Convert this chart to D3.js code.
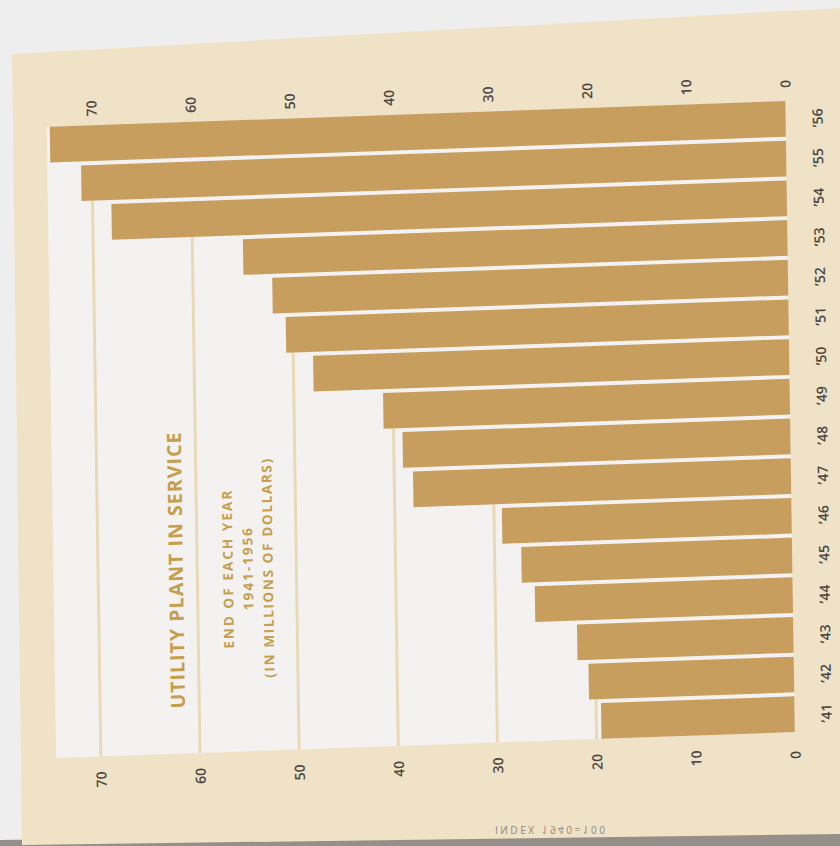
<!DOCTYPE html>
<html>
<head>
<meta charset="utf-8">
<script src="https://cdn.jsdelivr.net/npm/d3@7"></script>
<style>
  html, body { margin: 0; padding: 0; background: #eeeeee; }
  svg { display: block; }
</style>
</head>
<body>
<svg id="chart" width="840" height="846"></svg>
<script>
// data (millions of dollars)
const years = ["’41", "’42", "’43", "’44", "’45", "’46", "’47", "’48",
               "’49", "’50", "’51", "’52", "’53", "’54", "’55", "’56"];
const values = [19.5, 20.7, 21.8, 26.0, 27.3, 29.2, 38.1, 39.1,
                41.0, 48.0, 50.7, 52.0, 54.9, 68.1, 71.1, 74.2];
const tickValues = [0, 10, 20, 30, 40, 50, 60, 70];
const gridValues = [20, 30, 40, 50, 60, 70];
const title = "UTILITY PLANT IN SERVICE";
const subtitle = ["END OF EACH YEAR", "1941-1956", "(IN MILLIONS OF DOLLARS)"];
const footNote = "INDEX 1940=100";

const barColor = '#c89e5f';
const paper = '#f0e2c6';
const panel = '#f3f2f0';
const gridColor = '#e9d9b6';
const textGray = '#4a4743';
const gold = '#c69e4c';

const svg = d3.select('#chart');

// the photographed page and its shadow along the bottom
svg.append('polygon')
    .attr('points', '0,846 840,846 840,828 0,840')
    .attr('fill', '#948f88');
svg.append('polygon')
    .attr('points', '12,54 840,8 840,834 22,845')
    .attr('fill', paper);

// print is a little crooked in the photo
const g = svg.append('g')
    .attr('transform', 'translate(420,423) matrix(1,-0.035,0.015,1,0,0) translate(-420,-423)');

const x = d3.scaleLinear().domain([0, 70]).range([790, 96]);
const y = d3.scaleBand()
    .domain(years.slice().reverse())
    .range([114, 745])
    .paddingInner(0.1);

// white panel behind the bars
const panelTop = y.range()[0], panelBottom = y.range()[1];
g.append('rect')
    .attr('x', x(d3.max(values)) - 3)
    .attr('y', panelTop)
    .attr('width', x(0) - x(d3.max(values)) + 3)
    .attr('height', panelBottom - panelTop)
    .attr('fill', panel);

// grid lines only show below the first bar that reaches them
gridValues.forEach(v => {
    const i = values.findIndex(d => d >= v);
    const y1 = y(years[i]) + y.bandwidth();
    g.append('line')
        .attr('x1', x(v)).attr('x2', x(v))
        .attr('y1', y1).attr('y2', panelBottom)
        .attr('stroke', gridColor)
        .attr('stroke-width', 3);
});

// bars
g.append('g')
    .selectAll('rect')
    .data(values)
    .enter()
    .append('rect')
    .attr('x', d => x(d))
    .attr('y', (d, i) => y(years[i]))
    .attr('width', d => x(0) - x(d))
    .attr('height', y.bandwidth())
    .attr('fill', barColor);

// value axes, top and bottom, labels turned like the rest of the page
function styleAxis(sel) {
    sel.select('.domain').remove();
    sel.attr('font-family', '"Open Sans", sans-serif')
        .attr('font-size', 14)
        .attr('font-weight', 600);
    sel.selectAll('text')
        .attr('transform', 'rotate(-90)')
        .attr('x', 0)
        .attr('y', 0)
        .attr('dy', '0.35em')
        .attr('text-anchor', 'middle')
        .attr('fill', textGray);
}

g.append('g')
    .attr('transform', 'translate(0,97)')
    .call(d3.axisTop(x).tickValues(tickValues).tickSize(0))
    .call(styleAxis);

g.append('g')
    .attr('transform', 'translate(0,768)')
    .call(d3.axisBottom(x).tickValues(tickValues).tickSize(0))
    .call(styleAxis);

// year labels on the right
g.append('g')
    .attr('transform', 'translate(822,0)')
    .call(d3.axisRight(y).tickSize(0))
    .call(styleAxis);

// title block
g.append('text')
    .attr('transform', 'translate(174,562) rotate(-90)')
    .attr('text-anchor', 'middle')
    .attr('dy', '0.35em')
    .attr('font-family', '"Open Sans", sans-serif')
    .attr('font-weight', 700)
    .attr('font-size', 19.5)
    .attr('textLength', 276)
    .attr('lengthAdjust', 'spacing')
    .attr('fill', gold)
    .text(title);

const subX = [226, 246, 266];
const subLen = [158, 82, 219];
subtitle.forEach((s, i) => {
    g.append('text')
        .attr('transform', `translate(${subX[i]},563) rotate(-90)`)
        .attr('text-anchor', 'middle')
        .attr('dy', '0.35em')
        .attr('font-family', '"Open Sans", sans-serif')
        .attr('font-weight', 700)
        .attr('font-size', 13.5)
        .attr('textLength', subLen[i])
        .attr('lengthAdjust', 'spacing')
        .attr('fill', gold)
        .text(s);
});

// faint show-through from the back of the page
svg.append('text')
    .attr('transform', 'translate(550,829) scale(1,-1)')
    .attr('text-anchor', 'middle')
    .attr('dy', '0.35em')
    .attr('font-family', '"Open Sans", sans-serif')
    .attr('font-size', 10)
    .attr('textLength', 110)
    .attr('lengthAdjust', 'spacing')
    .attr('fill', '#8c8780')
    .text(footNote);
</script>
</body>
</html>
